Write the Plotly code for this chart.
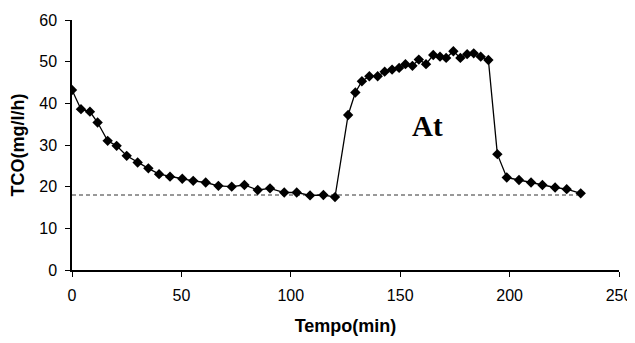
import plotly.graph_objects as go

# Data
tempo = [0, 4.1, 8.2, 11.7, 16.3, 20.4, 25, 30, 34.9, 39.8, 44.8, 50.4,
         55.4, 61.1, 66.9, 73, 78.8, 84.9, 90.5, 97, 102.7, 108.8, 114.9, 120.2,
         126.2, 129.5, 132.5, 135.9, 139.7, 142.9, 146.3, 149.5, 152.4, 155.6,
         158.5, 161.8, 165.1, 168.2, 171.0, 174.3, 177.5, 180.6, 183.6, 186.8, 190.3,
         194.4, 198.7, 204.3, 209.8, 215, 220.8, 226.1, 232.5]
tco = [43.2, 38.6, 38.0, 35.4, 31.0, 29.8, 27.4, 25.8, 24.4, 23.0, 22.4, 21.9,
       21.4, 21.0, 20.2, 20.0, 20.4, 19.2, 19.6, 18.6, 18.6, 17.9, 18.0, 17.5,
       37.2, 42.6, 45.3, 46.5, 46.5, 47.6, 48.1, 48.5, 49.4, 49.0,
       50.5, 49.4, 51.6, 51.2, 50.9, 52.5, 50.9, 51.8, 52.0, 51.2, 50.4,
       27.8, 22.2, 21.6, 21.0, 20.4, 19.8, 19.4, 18.4]
base_x = [0, 233]
base_y = [18, 18]
x_ticks = [0, 50, 100, 150, 200, 250]
y_ticks = [0, 10, 20, 30, 40, 50, 60]

fig = go.Figure()
fig.add_trace(go.Scatter(x=base_x, y=base_y, mode="lines",
                         line=dict(color="#333333", width=1, dash="4px,3px"),
                         hoverinfo="skip", showlegend=False))
fig.add_trace(go.Scatter(x=tempo, y=tco, mode="lines+markers",
                         line=dict(color="black", width=1.3),
                         marker=dict(symbol="diamond", size=8, color="black"),
                         showlegend=False))

fig.add_annotation(x=162.7, y=34.6, text="<b>At</b>", showarrow=False,
                   font=dict(family="Liberation Serif", size=29, color="black"))

axis_font = dict(family="Liberation Sans", size=16, color="black")
title_font = dict(family="Liberation Sans", size=18, color="black")
fig.update_xaxes(range=[0, 250], tickvals=x_ticks, ticks="outside", ticklen=5,
                 showline=True, linecolor="black", linewidth=1.5, showgrid=False,
                 zeroline=False, tickfont=axis_font, tickcolor="black", automargin=False,
                 ticklabelstandoff=5,
                 title=dict(text="<b>Tempo(min)</b>", font=title_font, standoff=16))
fig.update_yaxes(range=[0, 60], tickvals=y_ticks, ticks="outside", ticklen=5,
                 showline=True, linecolor="black", linewidth=1.5, showgrid=False,
                 zeroline=False, tickfont=axis_font, tickcolor="black", automargin=False,
                 ticklabelstandoff=5,
                 title=dict(text="<b>TCO(mg/l/h)</b>", font=title_font, standoff=12))

# page has an 8px body margin, so the figure is drawn 8px smaller and offset
fig.update_layout(width=627, height=335, margin=dict(l=64, r=16, t=12, b=73),
                  plot_bgcolor="white", paper_bgcolor="white")
fig.write_html("out.html")
